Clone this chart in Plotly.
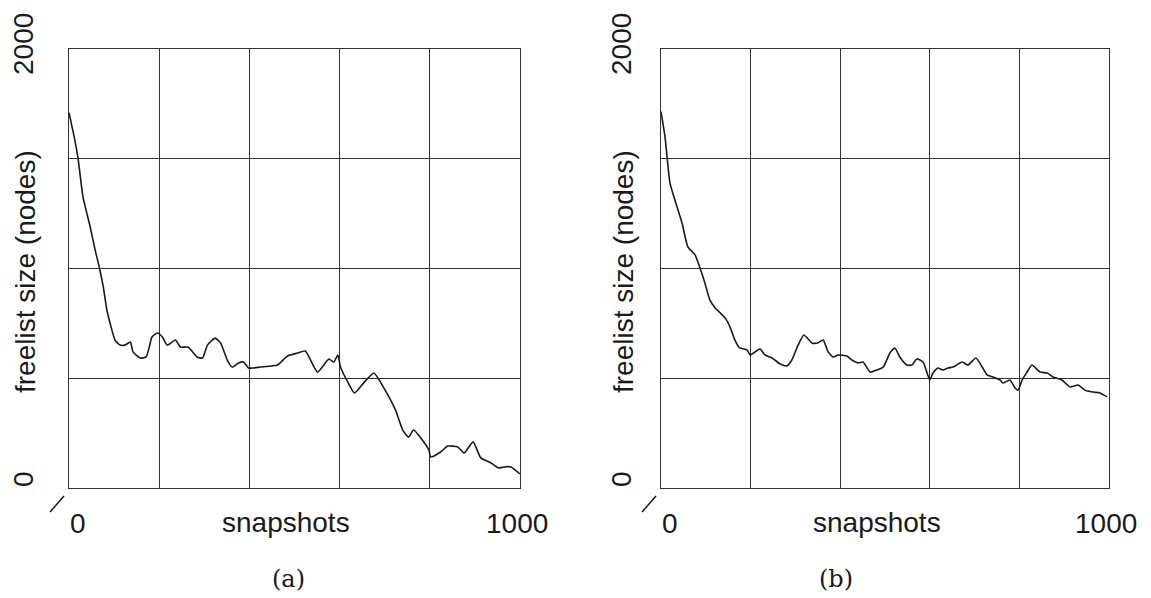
import plotly.graph_objects as go

# ---------------- data ----------------
a_snap = [0, 13, 20, 31, 47, 58, 67, 76, 84, 91, 102, 113, 124, 136, 142, 158, 171, 178, 184, 196,
          207, 218, 236, 247, 264, 284, 296, 307, 324, 336, 351, 362, 376, 387, 398, 409, 424, 462,
          484, 507, 524, 551, 576, 587, 596, 602, 618, 633, 653, 676, 698, 724, 740, 753, 764, 780,
          798, 802, 824, 840, 862, 876, 896, 913, 936, 953, 964, 980, 1000]
a_free = [1710, 1585, 1503, 1326, 1189, 1084, 1007, 916, 811, 752, 674, 651, 651, 665, 620, 592, 597,
          642, 688, 706, 688, 651, 674, 642, 642, 597, 592, 651, 683, 661, 583, 551, 570, 574, 547,
          547, 551, 560, 601, 615, 624, 528, 588, 574, 606, 551, 483, 433, 478, 524, 456, 355, 264,
          232, 264, 228, 173, 141, 164, 191, 187, 159, 210, 137, 114, 91, 96, 96, 64]

b_snap = [0, 9, 20, 31, 47, 60, 76, 87, 98, 109, 121, 143, 154, 165, 176, 192, 199, 210, 221, 232,
          248, 266, 281, 292, 306, 319, 337, 350, 362, 373, 384, 395, 415, 426, 440, 451, 467, 482,
          496, 511, 522, 533, 549, 560, 571, 585, 594, 600, 607, 618, 629, 641, 652, 672, 685, 703,
          717, 728, 741, 757, 763, 779, 790, 797, 806, 817, 828, 846, 862, 875, 895, 913, 931, 946,
          964, 980, 996]
b_free = [1715, 1599, 1390, 1312, 1207, 1098, 1062, 1002, 934, 857, 820, 775, 734, 674, 638, 629, 606,
          620, 633, 606, 592, 565, 556, 583, 651, 697, 661, 661, 674, 620, 597, 606, 601, 583, 570,
          574, 528, 538, 551, 615, 638, 597, 560, 560, 588, 574, 524, 492, 524, 547, 538, 547, 551,
          574, 560, 592, 551, 515, 506, 492, 478, 492, 456, 446, 492, 528, 560, 528, 524, 506, 492,
          460, 469, 446, 437, 433, 415]

x_ticks = [0, 1000]
x_tick_text = ["0", "1000"]
y_ticks = [0, 2000]
y_tick_text = ["0", "2000"]
x_title = "snapshots"
y_title = "freelist size (nodes)"
panel_labels = ["(a)", "(b)"]

# ---------------- layout helpers ----------------
PAGE_OFF = 8            # default page margin of the html body
W, H = 1151 - PAGE_OFF, 598 - PAGE_OFF


def px(x):
    return (x - PAGE_OFF) / W


def py(y):
    return 1 - (y - PAGE_OFF) / H


SANS = "Liberation Sans"
SERIF = "DejaVu Serif"
FS = 28
GRID = "#333333"
INK = "#1a1a1a"

fig = go.Figure()
fig.add_trace(go.Scatter(x=a_snap, y=a_free, mode="lines", xaxis="x", yaxis="y",
                         line=dict(color=INK, width=1.6, shape="spline", smoothing=0.5),
                         showlegend=False))
fig.add_trace(go.Scatter(x=b_snap, y=b_free, mode="lines", xaxis="x2", yaxis="y2",
                         line=dict(color=INK, width=1.6, shape="spline", smoothing=0.5),
                         showlegend=False))

panels = [
    dict(l=69, r=520, t=49, b=488, xa="x", ya="y",
         ylab_x=23, xt_y=523, title_x=286, lab_x=288),
    dict(l=661, r=1109, t=49, b=488, xa="x2", ya="y2",
         ylab_x=621, xt_y=523, title_x=877, lab_x=836),
]

axis_common = dict(showline=True, linecolor=GRID, linewidth=1.2, mirror=True,
                   showgrid=True, gridcolor=GRID, gridwidth=1.2,
                   zeroline=False, showticklabels=False, ticks="")

layout = dict(width=W, height=H, margin=dict(l=0, r=0, t=0, b=0),
              paper_bgcolor="white", plot_bgcolor="white", showlegend=False)

annotations = []
shapes = []
for i, p in enumerate(panels):
    xkey = "xaxis" if i == 0 else "xaxis2"
    ykey = "yaxis" if i == 0 else "yaxis2"
    layout[xkey] = dict(domain=[px(p["l"]), px(p["r"])], range=[0, 1000], anchor=p["ya"],
                        tick0=0, dtick=200, **axis_common)
    layout[ykey] = dict(domain=[py(p["b"]), py(p["t"])], range=[0, 2000], anchor=p["xa"],
                        tick0=0, dtick=500, **axis_common)
    font = dict(family=SANS, size=FS, color=INK)
    for v, t in zip(y_ticks, y_tick_text):
        annotations.append(dict(text=t, xref="paper", yref=p["ya"], x=px(p["ylab_x"]), y=v,
                                yshift=5 if v > 0 else 9, textangle=-90, showarrow=False,
                                xanchor="center", yanchor="middle", font=font))
    annotations.append(dict(text=y_title, xref="paper", yref="paper", x=px(p["ylab_x"] + 2),
                            y=py(272), textangle=-90, showarrow=False,
                            xanchor="center", yanchor="middle", font=font))
    for v, t in zip(x_ticks, x_tick_text):
        annotations.append(dict(text=t, xref=p["xa"], yref="paper", x=v, y=py(p["xt_y"]),
                                xshift=9 if v == 0 else -3, showarrow=False,
                                xanchor="center", yanchor="middle", font=font))
    annotations.append(dict(text=x_title, xref="paper", yref="paper", x=px(p["title_x"]),
                            y=py(522), showarrow=False, xanchor="center", yanchor="middle",
                            font=font))
    annotations.append(dict(text=panel_labels[i], xref="paper", yref="paper", x=px(p["lab_x"]),
                            y=py(579), showarrow=False, xanchor="center", yanchor="middle",
                            font=dict(family=SERIF, size=24, color=INK)))
    shapes.append(dict(type="line", xref="paper", yref="paper",
                       x0=px(p["l"] - 19), y0=py(p["b"] + 24),
                       x1=px(p["l"] - 5), y1=py(p["b"] + 8),
                       line=dict(color=INK, width=1.5)))

layout["annotations"] = annotations
layout["shapes"] = shapes
fig.update_layout(**layout)
fig.write_html("out.html")
